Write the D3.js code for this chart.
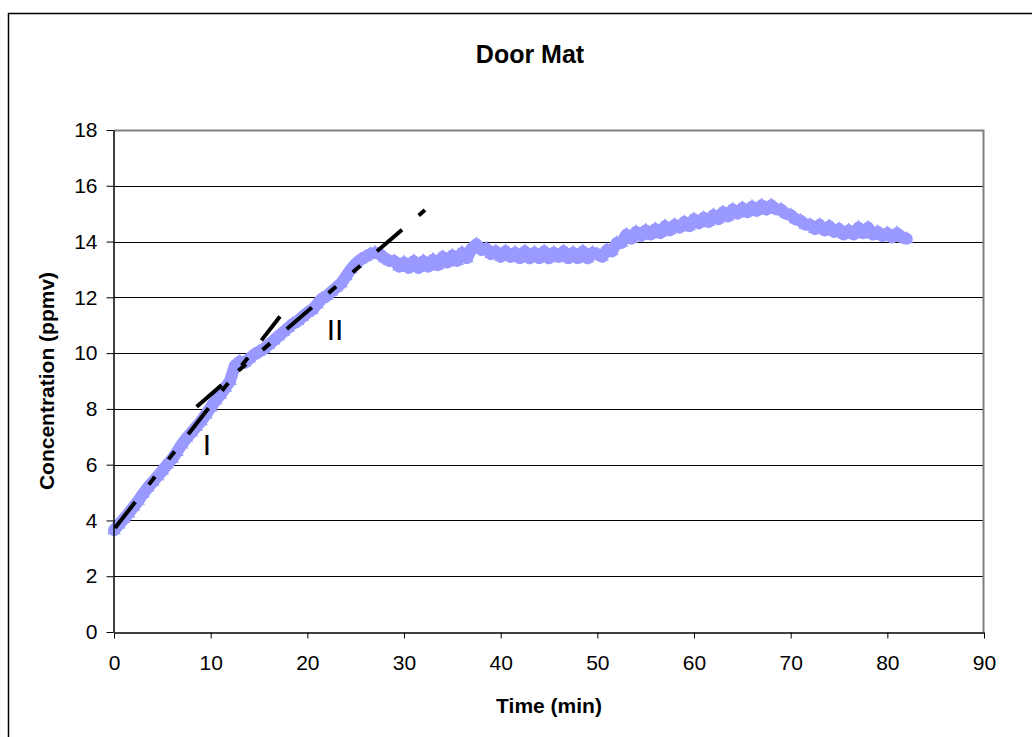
<!DOCTYPE html>
<html>
<head>
<meta charset="utf-8">
<script src="https://cdn.jsdelivr.net/npm/d3@7/dist/d3.min.js"></script>
<style>
  html, body { margin: 0; padding: 0; background: #fff; }
  svg { display: block; }
  text { font-family: "Liberation Sans", Arial, sans-serif; }
</style>
</head>
<body>
<svg id="chart" width="1032" height="737"></svg>
<script>
// Concentration readings, one every half minute from t = 0
const sampleStepMin = 0.5;
const concentration = [
  3.65, 3.85, 4.05, 4.25, 4.48, 4.70, 4.95, 5.18, 5.38, 5.58,
  5.78, 6.00, 6.20, 6.45, 6.72, 6.95, 7.15, 7.35, 7.55, 7.80,
  8.05, 8.30, 8.50, 8.75, 9.00, 9.55, 9.70, 9.65, 9.80, 9.95,
  10.05, 10.15, 10.30, 10.45, 10.60, 10.75, 10.90, 11.05, 11.15, 11.30,
  11.45, 11.55, 11.75, 11.95, 12.05, 12.20, 12.35, 12.50, 12.75, 13.00,
  13.20, 13.35, 13.45, 13.55, 13.60, 13.55, 13.40, 13.30, 13.30, 13.10,
  13.25, 13.05, 13.30, 13.05, 13.30, 13.10, 13.35, 13.15, 13.45, 13.25,
  13.50, 13.30, 13.60, 13.40, 13.75, 13.90, 13.70, 13.75, 13.55, 13.65,
  13.45, 13.65, 13.45, 13.60, 13.40, 13.65, 13.40, 13.60, 13.40, 13.65,
  13.40, 13.60, 13.45, 13.65, 13.40, 13.60, 13.40, 13.65, 13.40, 13.60,
  13.55, 13.45, 13.70, 13.65, 13.95, 13.95, 14.25, 14.10, 14.35, 14.20,
  14.40, 14.25, 14.45, 14.30, 14.55, 14.40, 14.60, 14.50, 14.70, 14.55,
  14.80, 14.65, 14.85, 14.70, 14.95, 14.80, 15.05, 14.90, 15.15, 15.00,
  15.20, 15.05, 15.25, 15.10, 15.30, 15.15, 15.30, 15.15, 15.15, 15.00,
  14.95, 14.80, 14.75, 14.60, 14.60, 14.45, 14.60, 14.40, 14.55, 14.35,
  14.45, 14.25, 14.40, 14.25, 14.50, 14.30, 14.50, 14.25, 14.35, 14.20,
  14.30, 14.15, 14.30, 14.15, 14.10
];

// Hand-fitted trend lines for phases I and II: [time, concentration]
const trendI = [[0.1, 3.73], [17.17, 11.31]];
const trendII = [[8.55, 8.08], [32.17, 15.13]];
const phaseLabels = ["I", "II"];
const phaseLabelPos = [[9.6, 6.74], [22.86, 10.86]];

const xTicks = [0, 10, 20, 30, 40, 50, 60, 70, 80, 90];
const yTicks = [0, 2, 4, 6, 8, 10, 12, 14, 16, 18];

const svg = d3.select("#chart");
const W = 1032, H = 737;
const plot = { left: 114, right: 984, top: 130, bottom: 632 };

// Chart frame
svg.append("rect")
  .attr("x", 8.5).attr("y", 13.5)
  .attr("width", W + 20).attr("height", H + 20)
  .attr("fill", "#fff").attr("stroke", "#000").attr("stroke-width", 1.5);

const x = d3.scaleLinear().domain([0, 90]).range([plot.left, plot.right]);
const y = d3.scaleLinear().domain([0, 18]).range([plot.bottom, plot.top]);

// Horizontal gridlines
svg.append("g")
  .selectAll("line")
  .data(yTicks.filter(d => d > 0 && d < 18))
  .join("line")
  .attr("x1", plot.left).attr("x2", plot.right)
  .attr("y1", d => Math.round(y(d)) + 0.5).attr("y2", d => Math.round(y(d)) + 0.5)
  .attr("stroke", "#000").attr("stroke-width", 1);

// Plot area border (top and right)
svg.append("path")
  .attr("d", `M${plot.left},${plot.top + 0.5}H${plot.right - 0.5}V${plot.bottom}`)
  .attr("fill", "none").attr("stroke", "#808080").attr("stroke-width", 2);

// Series: thick band of triangle markers
const pts = concentration.map((v, i) => [i * sampleStepMin, v]);
svg.append("path")
  .datum(pts)
  .attr("d", d3.line().x(d => x(d[0])).y(d => y(d[1])))
  .attr("fill", "none").attr("stroke", "#9999FF")
  .attr("stroke-width", 12).attr("stroke-linejoin", "round").attr("stroke-linecap", "round");

const tri = d3.symbol().type(d3.symbolTriangle).size(80);
svg.append("g")
  .selectAll("path")
  .data(pts)
  .join("path")
  .attr("d", tri)
  .attr("transform", d => `translate(${x(d[0])},${y(d[1])})`)
  .attr("fill", "#9999FF");

// Trend lines
[trendI, trendII].forEach(seg => {
  svg.append("path")
    .datum(seg)
    .attr("d", d3.line().x(d => x(d[0])).y(d => y(d[1])))
    .attr("fill", "none").attr("stroke", "#000")
    .attr("stroke-width", 4).attr("stroke-linecap", "butt")
    .attr("stroke-dasharray", "33,22,10,22,10,22");
});

// Phase labels
svg.append("g")
  .selectAll("text")
  .data(phaseLabels)
  .join("text")
  .attr("x", (d, i) => x(phaseLabelPos[i][0]))
  .attr("y", (d, i) => y(phaseLabelPos[i][1]))
  .attr("text-anchor", "middle").attr("dominant-baseline", "central")
  .attr("font-size", 30).attr("fill", "#000")
  .text(d => d);

// Axes
const xAxis = svg.append("g")
  .attr("transform", `translate(0,${plot.bottom + 0.5})`)
  .call(d3.axisBottom(x).tickValues(xTicks).tickSize(6).tickPadding(17).tickSizeOuter(0));
const yAxis = svg.append("g")
  .attr("transform", `translate(${plot.left - 0.5},0)`)
  .call(d3.axisLeft(y).tickValues(yTicks).tickSize(7).tickPadding(9).tickSizeOuter(0));
[xAxis, yAxis].forEach(g => {
  g.select(".domain").attr("stroke", "#000").attr("stroke-width", 1.5);
  g.selectAll(".tick line").attr("stroke", "#000");
  g.selectAll(".tick text")
    .attr("font-family", "'Liberation Sans', Arial, sans-serif")
    .attr("font-size", 21).attr("fill", "#000");
});

// Titles
svg.append("text")
  .attr("x", 530).attr("y", 63)
  .attr("text-anchor", "middle")
  .attr("font-size", 25).attr("font-weight", "bold")
  .text("Door Mat");

svg.append("text")
  .attr("x", (plot.left + plot.right) / 2).attr("y", 713)
  .attr("text-anchor", "middle")
  .attr("font-size", 21).attr("font-weight", "bold")
  .text("Time (min)");

svg.append("text")
  .attr("transform", `translate(54,${(plot.top + plot.bottom) / 2}) rotate(-90)`)
  .attr("text-anchor", "middle")
  .attr("font-size", 21).attr("font-weight", "bold")
  .text("Concentration (ppmv)");
</script>
</body>
</html>
